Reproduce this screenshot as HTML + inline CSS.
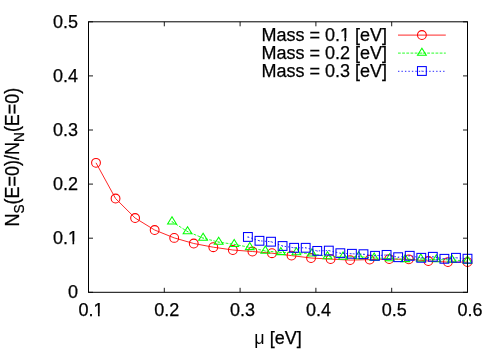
<!DOCTYPE html>
<html><head><meta charset="utf-8"><title>plot</title>
<style>html,body{margin:0;padding:0;background:#fff;}svg{display:block;will-change:transform;}text{font-family:"Liberation Sans",sans-serif;font-size:18px;fill:#000;stroke:#000;stroke-width:0.25px;}</style></head>
<body>
<svg width="500" height="350" viewBox="0 0 500 350">
<rect width="500" height="350" fill="#fff"/>
<path d="M88.5 292.30h4.5M467.5 292.30h-4.5M88.50 292.3v-4.5M88.50 21.8v4.5M88.5 238.20h4.5M467.5 238.20h-4.5M164.30 292.3v-4.5M164.30 21.8v4.5M88.5 184.10h4.5M467.5 184.10h-4.5M240.10 292.3v-4.5M240.10 21.8v4.5M88.5 130.00h4.5M467.5 130.00h-4.5M315.90 292.3v-4.5M315.90 21.8v4.5M88.5 75.90h4.5M467.5 75.90h-4.5M391.70 292.3v-4.5M391.70 21.8v4.5M88.5 21.80h4.5M467.5 21.80h-4.5M467.50 292.3v-4.5M467.50 21.8v4.5" stroke="#000" stroke-width="0.9" fill="none"/>
<text x="78" y="298.30" text-anchor="end">0</text>
<text x="78" y="244.20" text-anchor="end">0.1</text>
<text x="78" y="190.10" text-anchor="end">0.2</text>
<text x="78" y="136.00" text-anchor="end">0.3</text>
<text x="78" y="81.90" text-anchor="end">0.4</text>
<text x="78" y="27.80" text-anchor="end">0.5</text>
<text x="91.00" y="316.1" text-anchor="middle">0.1</text>
<text x="166.80" y="316.1" text-anchor="middle">0.2</text>
<text x="242.60" y="316.1" text-anchor="middle">0.3</text>
<text x="318.40" y="316.1" text-anchor="middle">0.4</text>
<text x="394.20" y="316.1" text-anchor="middle">0.5</text>
<text x="470.00" y="316.1" text-anchor="middle">0.6</text>
<text x="278.00" y="343.6" text-anchor="middle"><tspan stroke-width="0">μ</tspan> [eV]</text>
<text transform="translate(19 157.05) rotate(-90) scale(1 1.09)" text-anchor="middle">N<tspan font-size="13.6" dy="4.6">S</tspan><tspan dy="-4.6">(E=0)/N</tspan><tspan font-size="13.6" dy="4.6">N</tspan><tspan dy="-4.6">(E=0)</tspan></text>
<text x="387" y="40.7" text-anchor="end">Mass = 0.1 [eV]</text>
<text x="387" y="58.7" text-anchor="end">Mass = 0.2 [eV]</text>
<text x="387" y="76.7" text-anchor="end">Mass = 0.3 [eV]</text>
<path d="M68.17 241.60H72.47V245.90H68.17ZM74.17 241.60H78.17V245.90H74.17Z" fill="#fff"/>
<path d="M93.68 313.50H97.98V317.80H93.68ZM99.68 313.50H103.68V317.80H99.68Z" fill="#fff"/>
<path d="M340.15 38.10H344.45V42.40H340.15ZM346.15 38.10H350.15V42.40H346.15Z" fill="#fff"/>
<path d="M398 35.1H445.8" stroke="#ff0000" stroke-width="0.85" fill="none"/><circle cx="421.90" cy="35.00" r="4.4" fill="none" stroke="#ff0000" stroke-width="1.05"/>
<path d="M96.00 162.80 L115.55 198.50 L135.10 218.00 L154.65 230.00 L174.20 237.90 L193.75 243.50 L213.30 247.20 L232.85 250.00 L252.40 251.50 L271.95 253.20 L291.50 255.60 L311.05 258.00 L330.60 259.10 L350.15 260.10 L369.70 259.60 L389.25 259.10 L408.80 259.30 L428.35 261.00 L447.90 262.10 L467.45 262.10" stroke="#ff0000" stroke-width="0.85" fill="none"/>
<circle cx="96.00" cy="162.80" r="4.4" fill="none" stroke="#ff0000" stroke-width="1.05"/>
<circle cx="115.55" cy="198.50" r="4.4" fill="none" stroke="#ff0000" stroke-width="1.05"/>
<circle cx="135.10" cy="218.00" r="4.4" fill="none" stroke="#ff0000" stroke-width="1.05"/>
<circle cx="154.65" cy="230.00" r="4.4" fill="none" stroke="#ff0000" stroke-width="1.05"/>
<circle cx="174.20" cy="237.90" r="4.4" fill="none" stroke="#ff0000" stroke-width="1.05"/>
<circle cx="193.75" cy="243.50" r="4.4" fill="none" stroke="#ff0000" stroke-width="1.05"/>
<circle cx="213.30" cy="247.20" r="4.4" fill="none" stroke="#ff0000" stroke-width="1.05"/>
<circle cx="232.85" cy="250.00" r="4.4" fill="none" stroke="#ff0000" stroke-width="1.05"/>
<circle cx="252.40" cy="251.50" r="4.4" fill="none" stroke="#ff0000" stroke-width="1.05"/>
<circle cx="271.95" cy="253.20" r="4.4" fill="none" stroke="#ff0000" stroke-width="1.05"/>
<circle cx="291.50" cy="255.60" r="4.4" fill="none" stroke="#ff0000" stroke-width="1.05"/>
<circle cx="311.05" cy="258.00" r="4.4" fill="none" stroke="#ff0000" stroke-width="1.05"/>
<circle cx="330.60" cy="259.10" r="4.4" fill="none" stroke="#ff0000" stroke-width="1.05"/>
<circle cx="350.15" cy="260.10" r="4.4" fill="none" stroke="#ff0000" stroke-width="1.05"/>
<circle cx="369.70" cy="259.60" r="4.4" fill="none" stroke="#ff0000" stroke-width="1.05"/>
<circle cx="389.25" cy="259.10" r="4.4" fill="none" stroke="#ff0000" stroke-width="1.05"/>
<circle cx="408.80" cy="259.30" r="4.4" fill="none" stroke="#ff0000" stroke-width="1.05"/>
<circle cx="428.35" cy="261.00" r="4.4" fill="none" stroke="#ff0000" stroke-width="1.05"/>
<circle cx="447.90" cy="262.10" r="4.4" fill="none" stroke="#ff0000" stroke-width="1.05"/>
<circle cx="467.45" cy="262.10" r="4.4" fill="none" stroke="#ff0000" stroke-width="1.05"/>
<path d="M398 53.1H445.8" stroke="#00ff00" stroke-width="0.85" fill="none" stroke-dasharray="2.78 1.39"/><path d="M421.90 48.17 L417.50 55.30 L426.30 55.30 Z" fill="none" stroke="#00ff00" stroke-width="1.05"/><circle cx="421.90" cy="53.10" r="0.5" fill="#00ff00"/>
<path d="M172.00 221.70 L187.55 231.60 L203.10 238.10 L218.65 242.10 L234.20 244.35 L249.75 247.40 L265.30 251.00 L280.85 252.40 L296.40 252.60 L311.95 253.80 L327.50 256.60 L343.05 257.00 L358.60 256.60 L374.15 258.00 L389.70 258.60 L405.25 259.40 L420.80 259.00 L436.35 259.60 L451.90 259.90 L467.45 261.00" stroke="#00ff00" stroke-width="0.85" fill="none" stroke-dasharray="2.78 1.39"/>
<path d="M172.00 216.77 L167.60 223.90 L176.40 223.90 Z" fill="none" stroke="#00ff00" stroke-width="1.05"/><circle cx="172.00" cy="221.70" r="0.5" fill="#00ff00"/>
<path d="M187.55 226.67 L183.15 233.80 L191.95 233.80 Z" fill="none" stroke="#00ff00" stroke-width="1.05"/><circle cx="187.55" cy="231.60" r="0.5" fill="#00ff00"/>
<path d="M203.10 233.17 L198.70 240.30 L207.50 240.30 Z" fill="none" stroke="#00ff00" stroke-width="1.05"/><circle cx="203.10" cy="238.10" r="0.5" fill="#00ff00"/>
<path d="M218.65 237.17 L214.25 244.30 L223.05 244.30 Z" fill="none" stroke="#00ff00" stroke-width="1.05"/><circle cx="218.65" cy="242.10" r="0.5" fill="#00ff00"/>
<path d="M234.20 239.42 L229.80 246.55 L238.60 246.55 Z" fill="none" stroke="#00ff00" stroke-width="1.05"/><circle cx="234.20" cy="244.35" r="0.5" fill="#00ff00"/>
<path d="M249.75 242.47 L245.35 249.60 L254.15 249.60 Z" fill="none" stroke="#00ff00" stroke-width="1.05"/><circle cx="249.75" cy="247.40" r="0.5" fill="#00ff00"/>
<path d="M265.30 246.07 L260.90 253.20 L269.70 253.20 Z" fill="none" stroke="#00ff00" stroke-width="1.05"/><circle cx="265.30" cy="251.00" r="0.5" fill="#00ff00"/>
<path d="M280.85 247.47 L276.45 254.60 L285.25 254.60 Z" fill="none" stroke="#00ff00" stroke-width="1.05"/><circle cx="280.85" cy="252.40" r="0.5" fill="#00ff00"/>
<path d="M296.40 247.67 L292.00 254.80 L300.80 254.80 Z" fill="none" stroke="#00ff00" stroke-width="1.05"/><circle cx="296.40" cy="252.60" r="0.5" fill="#00ff00"/>
<path d="M311.95 248.87 L307.55 256.00 L316.35 256.00 Z" fill="none" stroke="#00ff00" stroke-width="1.05"/><circle cx="311.95" cy="253.80" r="0.5" fill="#00ff00"/>
<path d="M327.50 251.67 L323.10 258.80 L331.90 258.80 Z" fill="none" stroke="#00ff00" stroke-width="1.05"/><circle cx="327.50" cy="256.60" r="0.5" fill="#00ff00"/>
<path d="M343.05 252.07 L338.65 259.20 L347.45 259.20 Z" fill="none" stroke="#00ff00" stroke-width="1.05"/><circle cx="343.05" cy="257.00" r="0.5" fill="#00ff00"/>
<path d="M358.60 251.67 L354.20 258.80 L363.00 258.80 Z" fill="none" stroke="#00ff00" stroke-width="1.05"/><circle cx="358.60" cy="256.60" r="0.5" fill="#00ff00"/>
<path d="M374.15 253.07 L369.75 260.20 L378.55 260.20 Z" fill="none" stroke="#00ff00" stroke-width="1.05"/><circle cx="374.15" cy="258.00" r="0.5" fill="#00ff00"/>
<path d="M389.70 253.67 L385.30 260.80 L394.10 260.80 Z" fill="none" stroke="#00ff00" stroke-width="1.05"/><circle cx="389.70" cy="258.60" r="0.5" fill="#00ff00"/>
<path d="M405.25 254.47 L400.85 261.60 L409.65 261.60 Z" fill="none" stroke="#00ff00" stroke-width="1.05"/><circle cx="405.25" cy="259.40" r="0.5" fill="#00ff00"/>
<path d="M420.80 254.07 L416.40 261.20 L425.20 261.20 Z" fill="none" stroke="#00ff00" stroke-width="1.05"/><circle cx="420.80" cy="259.00" r="0.5" fill="#00ff00"/>
<path d="M436.35 254.67 L431.95 261.80 L440.75 261.80 Z" fill="none" stroke="#00ff00" stroke-width="1.05"/><circle cx="436.35" cy="259.60" r="0.5" fill="#00ff00"/>
<path d="M451.90 254.97 L447.50 262.10 L456.30 262.10 Z" fill="none" stroke="#00ff00" stroke-width="1.05"/><circle cx="451.90" cy="259.90" r="0.5" fill="#00ff00"/>
<path d="M467.45 256.07 L463.05 263.20 L471.85 263.20 Z" fill="none" stroke="#00ff00" stroke-width="1.05"/><circle cx="467.45" cy="261.00" r="0.5" fill="#00ff00"/>
<path d="M398 71.3H445.8" stroke="#0000ff" stroke-width="0.85" fill="none" stroke-dasharray="1.39 2.08"/><rect x="417.50" y="66.60" width="8.80" height="8.80" fill="none" stroke="#0000ff" stroke-width="1.05"/><circle cx="421.90" cy="71.00" r="0.5" fill="#0000ff"/>
<path d="M247.90 236.95 L259.46 240.80 L271.02 241.70 L282.57 246.00 L294.13 247.80 L305.69 247.80 L317.25 250.90 L328.81 250.60 L340.36 253.20 L351.92 253.80 L363.48 254.20 L375.04 255.80 L386.60 254.90 L398.15 257.20 L409.71 255.80 L421.27 257.80 L432.83 256.80 L444.39 258.80 L455.94 257.80 L467.50 258.70" stroke="#0000ff" stroke-width="0.85" fill="none" stroke-dasharray="1.39 2.08"/>
<rect x="243.50" y="232.55" width="8.80" height="8.80" fill="none" stroke="#0000ff" stroke-width="1.05"/><circle cx="247.90" cy="236.95" r="0.5" fill="#0000ff"/>
<rect x="255.06" y="236.40" width="8.80" height="8.80" fill="none" stroke="#0000ff" stroke-width="1.05"/><circle cx="259.46" cy="240.80" r="0.5" fill="#0000ff"/>
<rect x="266.62" y="237.30" width="8.80" height="8.80" fill="none" stroke="#0000ff" stroke-width="1.05"/><circle cx="271.02" cy="241.70" r="0.5" fill="#0000ff"/>
<rect x="278.17" y="241.60" width="8.80" height="8.80" fill="none" stroke="#0000ff" stroke-width="1.05"/><circle cx="282.57" cy="246.00" r="0.5" fill="#0000ff"/>
<rect x="289.73" y="243.40" width="8.80" height="8.80" fill="none" stroke="#0000ff" stroke-width="1.05"/><circle cx="294.13" cy="247.80" r="0.5" fill="#0000ff"/>
<rect x="301.29" y="243.40" width="8.80" height="8.80" fill="none" stroke="#0000ff" stroke-width="1.05"/><circle cx="305.69" cy="247.80" r="0.5" fill="#0000ff"/>
<rect x="312.85" y="246.50" width="8.80" height="8.80" fill="none" stroke="#0000ff" stroke-width="1.05"/><circle cx="317.25" cy="250.90" r="0.5" fill="#0000ff"/>
<rect x="324.41" y="246.20" width="8.80" height="8.80" fill="none" stroke="#0000ff" stroke-width="1.05"/><circle cx="328.81" cy="250.60" r="0.5" fill="#0000ff"/>
<rect x="335.96" y="248.80" width="8.80" height="8.80" fill="none" stroke="#0000ff" stroke-width="1.05"/><circle cx="340.36" cy="253.20" r="0.5" fill="#0000ff"/>
<rect x="347.52" y="249.40" width="8.80" height="8.80" fill="none" stroke="#0000ff" stroke-width="1.05"/><circle cx="351.92" cy="253.80" r="0.5" fill="#0000ff"/>
<rect x="359.08" y="249.80" width="8.80" height="8.80" fill="none" stroke="#0000ff" stroke-width="1.05"/><circle cx="363.48" cy="254.20" r="0.5" fill="#0000ff"/>
<rect x="370.64" y="251.40" width="8.80" height="8.80" fill="none" stroke="#0000ff" stroke-width="1.05"/><circle cx="375.04" cy="255.80" r="0.5" fill="#0000ff"/>
<rect x="382.20" y="250.50" width="8.80" height="8.80" fill="none" stroke="#0000ff" stroke-width="1.05"/><circle cx="386.60" cy="254.90" r="0.5" fill="#0000ff"/>
<rect x="393.75" y="252.80" width="8.80" height="8.80" fill="none" stroke="#0000ff" stroke-width="1.05"/><circle cx="398.15" cy="257.20" r="0.5" fill="#0000ff"/>
<rect x="405.31" y="251.40" width="8.80" height="8.80" fill="none" stroke="#0000ff" stroke-width="1.05"/><circle cx="409.71" cy="255.80" r="0.5" fill="#0000ff"/>
<rect x="416.87" y="253.40" width="8.80" height="8.80" fill="none" stroke="#0000ff" stroke-width="1.05"/><circle cx="421.27" cy="257.80" r="0.5" fill="#0000ff"/>
<rect x="428.43" y="252.40" width="8.80" height="8.80" fill="none" stroke="#0000ff" stroke-width="1.05"/><circle cx="432.83" cy="256.80" r="0.5" fill="#0000ff"/>
<rect x="439.99" y="254.40" width="8.80" height="8.80" fill="none" stroke="#0000ff" stroke-width="1.05"/><circle cx="444.39" cy="258.80" r="0.5" fill="#0000ff"/>
<rect x="451.54" y="253.40" width="8.80" height="8.80" fill="none" stroke="#0000ff" stroke-width="1.05"/><circle cx="455.94" cy="257.80" r="0.5" fill="#0000ff"/>
<rect x="463.10" y="254.30" width="8.80" height="8.80" fill="none" stroke="#0000ff" stroke-width="1.05"/><circle cx="467.50" cy="258.70" r="0.5" fill="#0000ff"/>
<rect x="88.5" y="21.8" width="379.00" height="270.50" fill="none" stroke="#000" stroke-width="1"/>
</svg>
</body></html>
